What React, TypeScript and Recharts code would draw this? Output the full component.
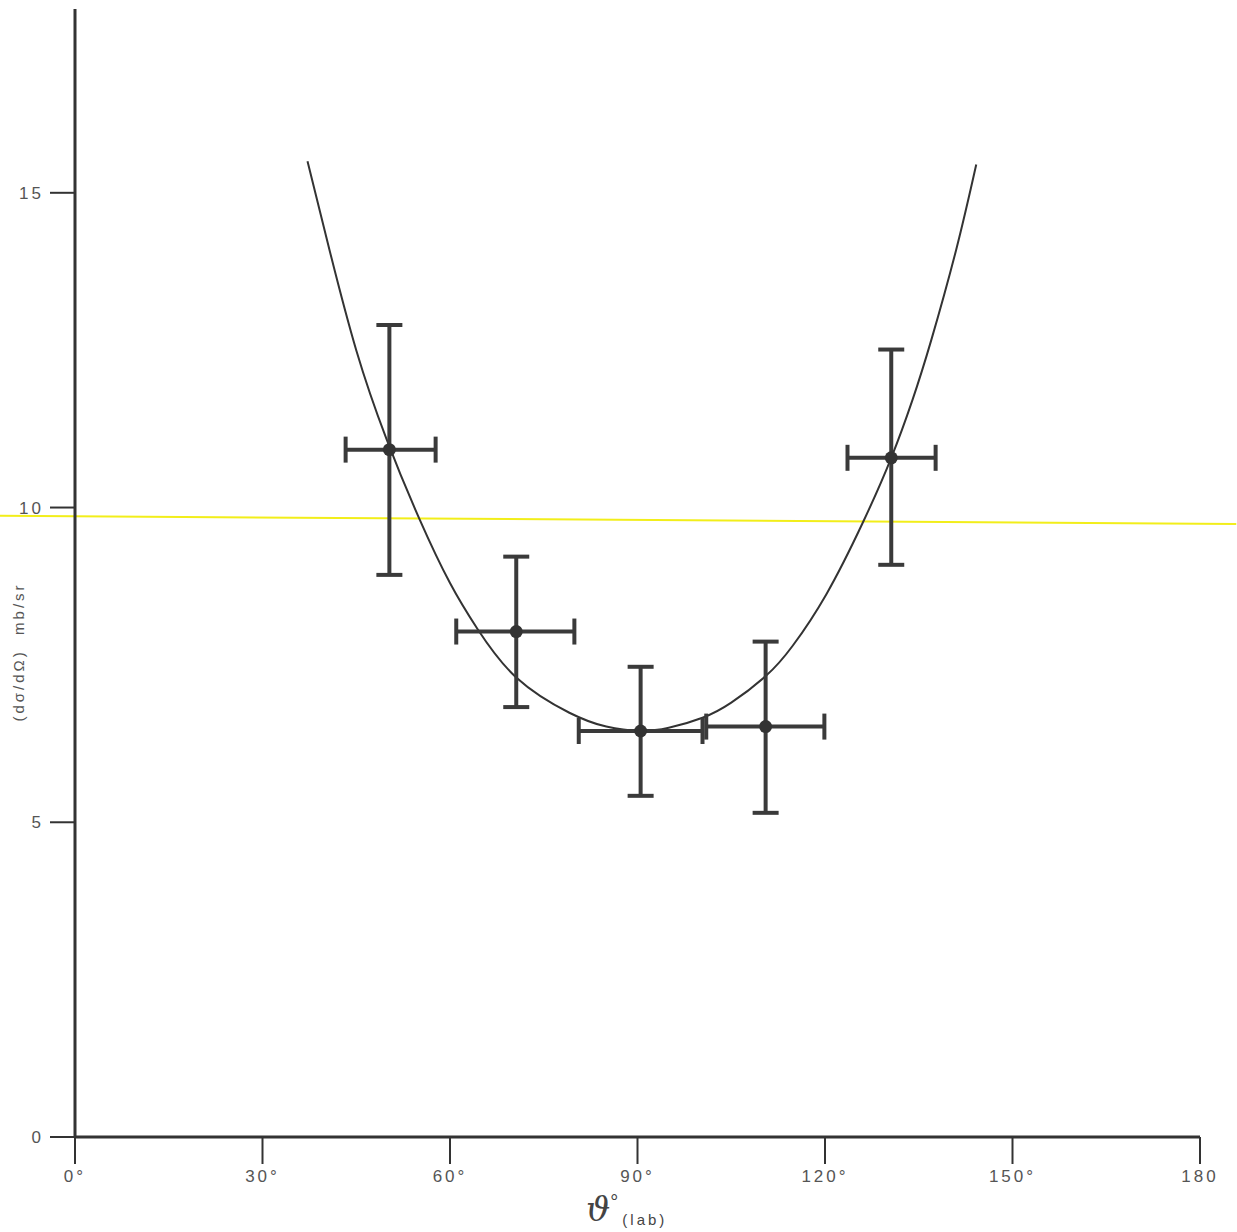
import {
  ComposedChart, Line, Scatter, ErrorBar, XAxis, YAxis, ReferenceLine,
} from 'recharts';

// fitted curve
const curveTheta = [37.2, 40.7, 45.0, 49.8, 55.1, 60.0, 64.4, 70.6, 79.1, 85.0, 90.3, 95.0, 100.4, 105.0, 110.6, 114.8, 120.2, 126.0, 130.6, 134.0, 137.0, 141.0, 144.2];
const curveSigma = [15.5, 14.1, 12.5, 11.1, 9.82, 8.8, 8.07, 7.3, 6.74, 6.52, 6.45, 6.5, 6.66, 6.9, 7.33, 7.8, 8.62, 9.75, 10.79, 11.71, 12.66, 14.1, 15.45];

// measured points
const pointTheta = [50.3, 70.6, 90.5, 110.5, 130.6];
const pointSigma = [10.92, 8.03, 6.45, 6.52, 10.79];
const sigmaLow = [8.93, 6.83, 5.42, 5.15, 9.09];
const sigmaHigh = [12.9, 9.22, 7.47, 7.87, 12.51];
const thetaLow = [43.3, 61.0, 80.6, 101.0, 123.6];
const thetaHigh = [57.7, 79.9, 100.4, 119.9, 137.7];

const xTicks = [0, 30, 60, 90, 120, 150, 180];
const yTicks = [0, 5, 10, 15];

// yellow stray line across the scan
const strayLine = [{ x: -12.1, y: 9.87 }, { x: 185.8, y: 9.74 }];

const INK = '#333';
const tickStyle = { fontSize: 17, fill: '#555', fontFamily: 'Liberation Sans, Arial, sans-serif', letterSpacing: 3 };

const curve = curveTheta.map((t, i) => ({ theta: t, sigma: curveSigma[i] }));
const points = pointTheta.map((t, i) => ({
  theta: t,
  sigma: pointSigma[i],
  yErr: [pointSigma[i] - sigmaLow[i], sigmaHigh[i] - pointSigma[i]],
  xErr: [t - thetaLow[i], thetaHigh[i] - t],
}));

const Dot = (props: any) => <circle cx={props.cx} cy={props.cy} r={6.5} fill={INK} />;

export default function App() {
  return (
    <div style={{ position: 'absolute', left: 0, top: 0, width: 1237, height: 1232, background: '#fff' }}>
      <ComposedChart width={1237} height={1232} margin={{ top: 9, right: 37, bottom: 0, left: 0 }}>
        <XAxis
          type="number"
          dataKey="theta"
          domain={[0, 180]}
          ticks={xTicks}
          interval={0}
          allowDataOverflow
          stroke={INK}
          strokeWidth={3}
          tickSize={27}
          tickMargin={6}
          tickLine={{ stroke: INK, strokeWidth: 2 }}
          tick={tickStyle}
          tickFormatter={v => (v === 180 ? '180' : `${v}°`)}
          height={95}
        />
        <YAxis
          type="number"
          dataKey="sigma"
          domain={[0, 17.92]}
          ticks={yTicks}
          interval={0}
          allowDataOverflow
          stroke={INK}
          strokeWidth={3}
          tickSize={25}
          tickMargin={6}
          tickLine={{ stroke: INK, strokeWidth: 2 }}
          tick={tickStyle}
          width={75}
        />
        <ReferenceLine
          segment={strayLine}
          stroke="#f2ee1a"
          strokeWidth={2}
          ifOverflow="visible"
        />
        <Line
          data={curve}
          dataKey="sigma"
          type="natural"
          stroke={INK}
          strokeWidth={2}
          dot={false}
          isAnimationActive={false}
        />
        <Scatter data={points} dataKey="sigma" shape={Dot} isAnimationActive={false}>
          <ErrorBar dataKey="yErr" direction="y" width={13} stroke="#3a3a3a" strokeWidth={4} />
          <ErrorBar dataKey="xErr" direction="x" width={13} stroke="#3a3a3a" strokeWidth={4} />
        </Scatter>
      </ComposedChart>
      <div
        style={{
          position: 'absolute', left: 18, top: 652, transform: 'translate(-50%, -50%) rotate(-90deg)',
          whiteSpace: 'nowrap', fontFamily: 'Liberation Sans, Arial, sans-serif', fontSize: 15, color: '#555', letterSpacing: 3,
        }}
      >
        (dσ/dΩ)&nbsp;&nbsp;mb/sr
      </div>
      <div style={{ position: 'absolute', left: 586, top: 1190, whiteSpace: 'nowrap', color: '#444' }}>
        <span style={{ fontFamily: 'DejaVu Serif, serif', fontStyle: 'italic', fontSize: 34, lineHeight: '38px' }}>ϑ</span>
        <span style={{ fontFamily: 'Liberation Sans, Arial, sans-serif', fontSize: 20, position: 'relative', top: -12 }}>°</span>
        <span style={{ fontFamily: 'Liberation Sans, Arial, sans-serif', fontSize: 15, letterSpacing: 3, marginLeft: 4, position: 'relative', top: 4 }}>(lab)</span>
      </div>
    </div>
  );
}
